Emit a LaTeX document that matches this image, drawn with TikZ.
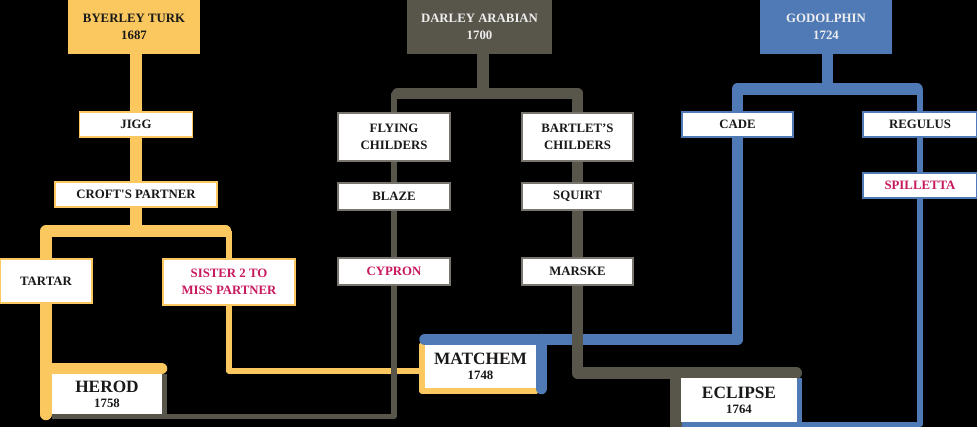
\documentclass[tikz,border=0pt]{standalone}
\usepackage{fontspec}
\setmainfont{Liberation Serif}
\usetikzlibrary{calc}
\definecolor{yel}{RGB}{250,200,95}
\definecolor{gry}{RGB}{88,85,74}
\definecolor{gryb}{RGB}{120,118,110}
\definecolor{blu}{RGB}{80,122,182}
\definecolor{mag}{RGB}{200,25,95}
\definecolor{ink}{RGB}{25,25,25}
\definecolor{paper}{RGB}{238,238,238}
\pgfdeclarelayer{bg}
\pgfsetlayers{bg,main}
\begin{document}
\begin{tikzpicture}[x=1pt,y=-1pt,
  lbl/.style={font=\bfseries\fontsize{12.8}{16.5}\selectfont, align=center, inner sep=0pt, text=ink},
  box/.style={lbl, draw, fill=white, line width=1.3pt, minimum width=#1},
  ybox/.style={box=#1, draw=yel},
  gbox/.style={box=#1, draw=gryb},
  bbox/.style={box=#1, draw=blu},
  title/.style={lbl, font=\bfseries\fontsize{12.8}{17}\selectfont, minimum height=54, minimum width=#1},
  big/.style={fill=white, inner sep=0pt, align=center, text=ink, font=\bfseries\fontsize{12.8}{14.8}\selectfont},
  bigname/.style={},
  TH/.style={line width=11.5pt, line join=round},
  TN/.style={line width=5.5pt, line join=round},
  rc/.style={line cap=round}]
\useasboundingbox (0,0) rectangle (977,427);

% ---------- nodes ----------
\node[title=132, fill=yel, text=ink] (bt) at (134,27) {BYERLEY TURK\\1687};
\node[title=145, fill=gry, text=paper] (da) at (479.5,27) {DARLEY ARABIAN\\1700};
\node[title=132, fill=blu, text=paper] (god) at (826,27) {GODOLPHIN\\1724};

\node[ybox=113, minimum height=25] (jigg) at (136,124.5) {JIGG};
\node[ybox=162, minimum height=25] (croft) at (136,194.5) {CROFT\textquotesingle S PARTNER};
\node[ybox=92, minimum height=44] (tartar) at (46,281) {TARTAR};
\node[ybox=132, minimum height=46, text=mag] (sister) at (229,282) {SISTER 2 TO\\MISS PARTNER};
\node[big, minimum width=110, minimum height=40] (herod) at (107,394)
  {{\fontsize{17.3}{14.8}\selectfont HEROD}\\1758};

\node[gbox=112, minimum height=48] (fc) at (394,137) {FLYING\\CHILDERS};
\node[gbox=111, minimum height=48] (bc) at (577.5,137) {BARTLET’S\\CHILDERS};
\node[gbox=112, minimum height=27] (blaze) at (394,196.5) {BLAZE};
\node[gbox=111, minimum height=27] (squirt) at (577.5,196.5) {SQUIRT};
\node[gbox=112, minimum height=27, text=mag] (cypron) at (394,271.5) {CYPRON};
\node[gbox=111, minimum height=27] (marske) at (577.5,271.5) {MARSKE};
\node[big, minimum width=111, minimum height=43] (matchem) at (480.5,366.5)
  {{\fontsize{17.3}{14.8}\selectfont MATCHEM}\\1748};
\node[big, minimum width=116, minimum height=44] (eclipse) at (739,400)
  {{\fontsize{17.3}{14.8}\selectfont ECLIPSE}\\1764};

\node[bbox=111, minimum height=25] (cade) at (737.5,124.5) {CADE};
\node[bbox=114, minimum height=25] (regulus) at (920,124.5) {REGULUS};
\node[bbox=114, minimum height=25, text=mag] (spill) at (920,185.5) {SPILLETTA};

% ---------- connectors ----------
\begin{pgfonlayer}{bg}
\fill[black] (0,0) rectangle (977,427);
% yellow
\coordinate (yJ) at (136,231);
\coordinate (yL) at (46,231);
\coordinate (yBE) at (225.5,231);
\coordinate (yR) at (229,231);
\coordinate (hTL) at (46,368.5);
\coordinate (hTR) at (161.5,368.5);
\coordinate (hBL) at (46,414.5);
\coordinate (sB) at (229,371);
\coordinate (mYL) at (422,371);
\coordinate (mYT) at (422,345);
\coordinate (mYB) at (422,391);
\coordinate (mYR) at (536,391);
% blue
\coordinate (mBL) at (425,339.5);
\coordinate (cB) at (737.5,339.5);
\coordinate (bL) at (737.5,89);
\coordinate (bJ) at (827.5,89);
\coordinate (bBE) at (917,89);
\coordinate (bR) at (920,89);
\coordinate (mRT) at (541.5,339.5);
\coordinate (mRB) at (541.5,388.5);
\coordinate (sBot) at (920,424.5);
\coordinate (eBL) at (681,424.5);
\coordinate (eRT) at (799.5,378);
\coordinate (eRB) at (799.5,424.5);
% gray
\coordinate (gJ) at (483,93.5);
\coordinate (gL) at (394,93.5);
\coordinate (gLE) at (397.75,93.5);
\coordinate (gR) at (577.5,93.5);
\coordinate (gEB) at (577.5,373);
\coordinate (gEE) at (796.25,373);
\coordinate (eLT) at (676,373);
\coordinate (eLB) at (676,427);
\coordinate (gHB) at (394,416.5);
\coordinate (gHL) at (52,416.5);
\coordinate (hRT) at (164.5,374);
\coordinate (hRB) at (164.5,416.5);

\draw[yel,TH] (bt.south -| yJ) -- (jigg) -- (croft) -- (yJ);
\draw[yel,TH,rc] (yBE) -- (yL) -- (tartar) -- (hBL);
\draw[yel,TH,rc] (hTL) -- (hTR);
\draw[yel,TN] (yR) -- (sister) -- (sB) -- (mYL);
\draw[yel,TN,rc] (mYT) -- (mYB) -- (mYR);

\draw[blu,TH] (god.south -| bJ) -- (bJ);
\draw[blu,TH,rc] (mBL) -- (cB) -- (cade) -- (bL) -- (bBE);
\draw[blu,TH,rc] (mRT) -- (mRB);
\draw[blu,TN] (bR) -- (regulus) -- (spill) -- (sBot) -- (eBL);
\draw[blu,TN] (eRT) -- (eRB);

\draw[gry,TH] (da.south -| gJ) -- (gJ);
\draw[gry,TH,rc] (gLE) -- (gR) -- (bc) -- (squirt) -- (marske) -- (gEB) -- (gEE);
\draw[gry,TH] (eLT) -- (eLB);
\draw[gry,TN] (gL) -- (fc) -- (blaze) -- (cypron) -- (gHB) -- (gHL);
\draw[gry,TN] (hRT) -- (hRB);
\end{pgfonlayer}
\end{tikzpicture}
\end{document}
